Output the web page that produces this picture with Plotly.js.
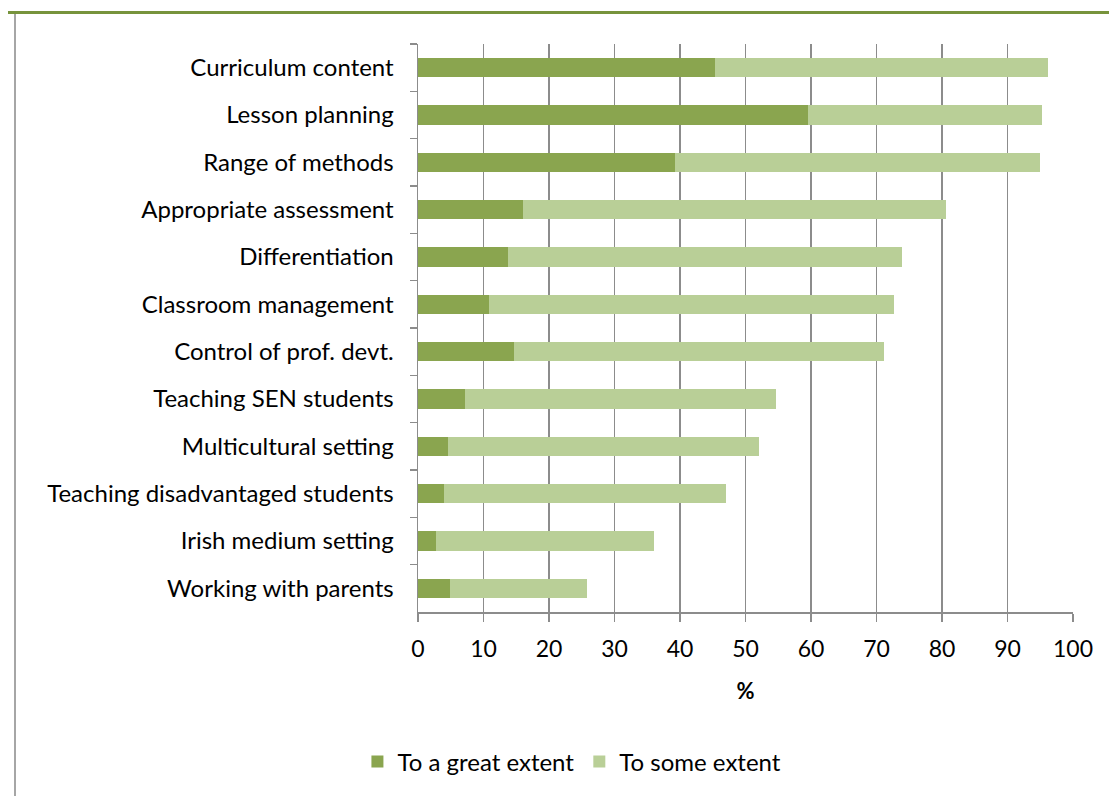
<!DOCTYPE html>
<html>
<head>
<meta charset="utf-8">
<script src="https://cdn.plot.ly/plotly-3.0.1.min.js"></script>
<style>
  html, body { margin: 0; padding: 0; background: #fff; }
  #wrap { position: relative; width: 1109px; height: 796px; overflow: hidden; }
  #topline { position: absolute; left: 8px; top: 11px; width: 1101px; height: 3px; background: #77933C; }
  #leftline { position: absolute; left: 14px; top: 14px; width: 2px; height: 782px; background: #A6A6A6; }
  #chart { position: absolute; left: 0; top: 0; width: 1109px; height: 796px; }
</style>
</head>
<body>
<div id="wrap">
  <div id="chart"></div>
  <div id="topline"></div>
  <div id="leftline"></div>
</div>
<script>
const categories = [
  "Curriculum content",
  "Lesson planning",
  "Range of methods",
  "Appropriate assessment",
  "Differentiation",
  "Classroom management",
  "Control of prof. devt.",
  "Teaching SEN students",
  "Multicultural setting",
  "Teaching disadvantaged students",
  "Irish medium setting",
  "Working with parents"
];
const greatExtent = [45.3, 59.5, 39.2, 16.0, 13.7, 10.9, 14.7, 7.2, 4.6, 4.0, 2.7, 4.9];
const someExtent  = [50.9, 35.7, 55.8, 64.6, 60.2, 61.8, 56.4, 47.5, 47.5, 43.0, 33.3, 20.9];
const xTickVals = [0, 10, 20, 30, 40, 50, 60, 70, 80, 90, 100];

const font = "Lato, 'Open Sans', sans-serif";
const gridColor = "#8C8C8C";

const traces = [
  {
    type: "bar", orientation: "h", name: "To a great extent",
    y: categories, x: greatExtent,
    marker: { color: "#8AA54F" }
  },
  {
    type: "bar", orientation: "h", name: "To some extent",
    y: categories, x: someExtent,
    marker: { color: "#B9CF97" }
  }
];

const layout = {
  width: 1109, height: 796,
  margin: { l: 418, r: 36, t: 44, b: 184 },
  barmode: "stack",
  bargap: 0.59,
  paper_bgcolor: "#fff",
  plot_bgcolor: "#fff",
  font: { family: font, size: 24, color: "#000" },
  showlegend: true,
  legend: {
    orientation: "h", x: 0.235, xanchor: "center", y: -0.264, yanchor: "middle",
    font: { family: font, size: 24, color: "#000" },
    traceorder: "normal", itemwidth: 30
  },
  xaxis: {
    range: [0, 100],
    tickvals: xTickVals,
    ticktext: xTickVals.map(String),
    showgrid: true, gridcolor: gridColor, gridwidth: 1.5,
    showline: true, linecolor: gridColor, linewidth: 1.5,
    ticks: "outside", ticklen: 8, tickcolor: gridColor, tickwidth: 1.5,
    ticklabelstandoff: 8,
    tickfont: { family: font, size: 23, color: "#000" },
    zeroline: false,
    fixedrange: true,
    title: { text: "<b>%</b>", font: { family: font, size: 22, color: "#000" }, standoff: 22 }
  },
  yaxis: {
    type: "category",
    autorange: "reversed",
    showline: true, linecolor: gridColor, linewidth: 1.5,
    ticks: "outside", ticklen: 7, tickcolor: gridColor, tickwidth: 1.5,
    tickson: "boundaries",
    ticklabelstandoff: 18,
    tickfont: { family: font, size: 24, color: "#000" },
    showgrid: false,
    fixedrange: true
  }
};

Plotly.newPlot("chart", traces, layout, { displayModeBar: false, staticPlot: true });
</script>
</body>
</html>
